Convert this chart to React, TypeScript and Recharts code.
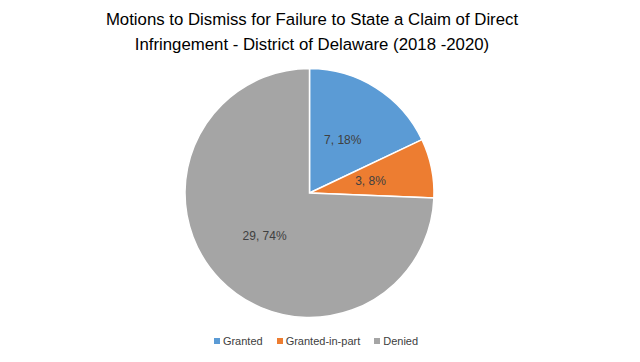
import React from 'react';
import { PieChart, Pie, Cell, Legend } from 'recharts';

const categories = ['Granted', 'Granted-in-part', 'Denied'];
const counts = [7, 3, 29];
const percents = ['18%', '8%', '74%'];

const COLORS = ['#5B9BD5', '#ED7D31', '#A5A5A5'];
const FONT = '"Liberation Sans", Arial, sans-serif';

const chartData = categories.map((name, i) => ({ name, value: counts[i], pct: percents[i] }));

const RAD = Math.PI / 180;

const renderLabel = (props: any) => {
  const { cx, cy, midAngle, outerRadius, index } = props;
  const r = outerRadius * 0.5;
  const x = cx + r * Math.cos(-midAngle * RAD);
  const y = cy + r * Math.sin(-midAngle * RAD);
  return (
    <text x={x} y={y} fill="#404040" fontSize={12} fontFamily={FONT} textAnchor="middle" dominantBaseline="central">
      {`${chartData[index].value}, ${chartData[index].pct}`}
    </text>
  );
};

const LegendContent = () => (
  <div style={{ display: 'flex', justifyContent: 'center', gap: 14, fontFamily: FONT, fontSize: 11, color: '#404040', paddingRight: 8 }}>
    {chartData.map((d, i) => (
      <div key={d.name} style={{ display: 'flex', alignItems: 'center' }}>
        <span style={{ width: 6, height: 6, background: COLORS[i], marginRight: 3, display: 'inline-block' }} />
        <span>{d.name}</span>
      </div>
    ))}
  </div>
);

export default function App() {
  return (
    <div style={{ position: 'absolute', left: 0, top: 0, width: 640, height: 362, background: '#fff' }}>
      <div
        style={{
          position: 'absolute',
          top: 7,
          left: 0,
          width: 640,
          paddingRight: 16,
          boxSizing: 'border-box',
          textAlign: 'center',
          fontFamily: FONT,
          fontSize: 16.8,
          lineHeight: '25px',
          color: '#000',
        }}
      >
        Motions to Dismiss for Failure to State a Claim of Direct
        <br />
        Infringement - District of Delaware (2018 -2020)
      </div>
      <PieChart width={640} height={362} margin={{ top: 0, right: 0, bottom: 0, left: 0 }}>
        <Pie
          data={chartData}
          dataKey="value"
          nameKey="name"
          cx={309.5}
          cy={193}
          outerRadius={124.5}
          startAngle={90}
          endAngle={-270}
          stroke="#fff"
          strokeWidth={1.5}
          labelLine={false}
          label={renderLabel}
          isAnimationActive={false}
        >
          {chartData.map((d, i) => (
            <Cell key={d.name} fill={COLORS[i]} />
          ))}
        </Pie>
        <Legend content={<LegendContent />} wrapperStyle={{ position: 'absolute', top: 335, left: 0, width: 640 }} />
      </PieChart>
    </div>
  );
}
